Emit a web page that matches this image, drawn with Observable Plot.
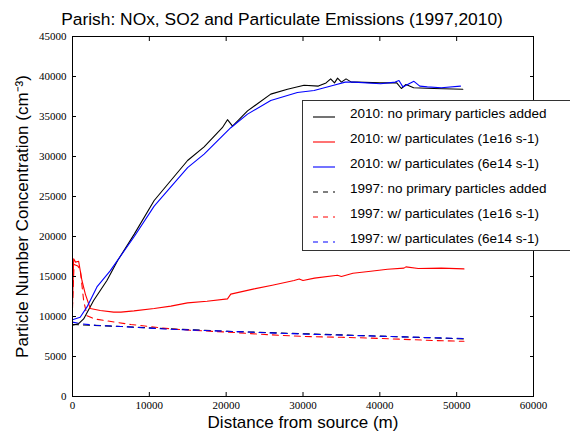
<!DOCTYPE html>
<html>
<head>
<meta charset="utf-8">
<script src="https://cdn.jsdelivr.net/npm/d3@7"></script>
<script src="https://cdn.jsdelivr.net/npm/@observablehq/plot@0.6"></script>
<style>
  body { margin: 0; background: #fff; }
  #wrap { position: relative; width: 570px; height: 434px; overflow: hidden; font-family: "Liberation Sans", Arial, sans-serif; }
  #title { position: absolute; left: 0; width: 570px; top: 9px; text-align: center; font-size: 17.4px; color: #000; margin-left: -3px; }
  #chart { position: absolute; left: 0; top: 0; }
  #legend { position: absolute; left: 302px; top: 100px; width: 272px; height: 149px; border: 1px solid #333; background: #fff; }
  .row { position: absolute; left: 0; height: 20px; font-size: 13.5px; white-space: nowrap; }
  .row svg { position: absolute; left: 9px; top: 4px; }
  .row span { position: absolute; left: 47px; top: 1px; }
</style>
</head>
<body>
<div id="wrap">
  <div id="chart"></div>
  <div id="title">Parish: NOx, SO2 and Particulate Emissions (1997,2010)</div>
  <div id="legend"></div>
</div>
<script>
// ---- data (distance in m, particle number concentration in cm^-3) ----
const seriesNames = [
  "2010: no primary particles added",
  "2010: w/ particulates (1e16 s-1)",
  "2010: w/ particulates (6e14 s-1)",
  "1997: no primary particles added",
  "1997: w/ particulates (1e16 s-1)",
  "1997: w/ particulates (6e14 s-1)"
];
const xTicks = [0, 10000, 20000, 30000, 40000, 50000, 60000];
const yTicks = [0, 5000, 10000, 15000, 20000, 25000, 30000, 35000, 40000, 45000];

const distBlack2010 = [0, 800, 1450, 2750, 4480, 5880, 8040, 10630, 12800, 14980, 17130, 19500, 20170, 20830, 22780, 25800, 27980, 30140, 32000, 33000, 33600, 34100, 34500, 35000, 35600, 36300, 37100, 40000, 42200, 42800, 43400, 44400, 47000, 50800];
const valBlack2010  = [8900, 9100, 9700, 12000, 14500, 17000, 20300, 24500, 27000, 29500, 31200, 33600, 34600, 33800, 35700, 37800, 38400, 38900, 38800, 39200, 39700, 39200, 39800, 39300, 39700, 39300, 39300, 39200, 39200, 38500, 39000, 38600, 38500, 38400];

const distRed2010 = [0, 150, 400, 800, 1230, 1670, 2310, 3610, 5360, 6300, 8000, 10630, 12800, 14970, 17500, 20170, 20600, 23640, 26000, 28840, 29500, 30000, 31500, 34480, 35000, 36500, 38810, 41000, 43140, 43400, 45000, 48000, 50950];
const valRed2010  = [11500, 17200, 16800, 16900, 14500, 12800, 11000, 10750, 10550, 10550, 10700, 11000, 11300, 11700, 11900, 12200, 12800, 13450, 13900, 14500, 14700, 14500, 14800, 15150, 15000, 15400, 15650, 15900, 16050, 16200, 16000, 16050, 15950];

const distBlue2010 = [0, 1000, 1890, 3180, 4900, 8040, 10630, 12800, 14980, 17130, 20600, 22780, 25800, 29270, 31440, 34000, 35500, 36640, 40100, 42000, 42490, 43000, 43800, 44440, 45200, 46180, 48000, 50500];
const valBlue2010  = [9600, 9900, 11200, 13700, 15700, 20000, 23800, 26200, 28600, 30300, 33600, 35300, 37000, 38000, 38250, 38900, 39300, 39300, 39100, 39300, 39500, 38700, 39100, 39400, 38800, 38700, 38600, 38800];

const distBlack1997 = [0, 6300, 12800, 20170, 30140, 43140, 50950];
const valBlack1997  = [9000, 8750, 8450, 8150, 7850, 7450, 7200];

const distRed1997 = [0, 200, 700, 1000, 1450, 1890, 2840, 4140, 5500, 7600, 10000, 12800, 16000, 20170, 25000, 30140, 35000, 38800, 43000, 47000, 50950];
const valRed1997  = [11000, 16500, 16300, 15900, 12000, 10100, 9700, 9500, 9300, 9000, 8750, 8450, 8250, 8050, 7750, 7500, 7400, 7300, 7150, 7000, 6900];

const distBlue1997 = [0, 1000, 3000, 6300, 12800, 20170, 30140, 43140, 50950];
const valBlue1997  = [9300, 9100, 8900, 8750, 8400, 8150, 7800, 7450, 7250];

const seriesColors = ["black", "red", "blue", "black", "red", "blue"];
const seriesDash = [null, null, null, "6,5", "6,5", "6,5"];

// ---- build tables ----
const pairs = [
  [distBlack2010, valBlack2010], [distRed2010, valRed2010], [distBlue2010, valBlue2010],
  [distBlack1997, valBlack1997], [distRed1997, valRed1997], [distBlue1997, valBlue1997]
];
const tables = pairs.map(([d, v], i) => d.map((x, j) => ({x, y: v[j], s: seriesNames[i]})));

const tickFont = {fontFamily: "Liberation Serif, serif", fontSize: 11};

const marks = [];
// draw 1997 first then 2010 on top
[3, 4, 5, 0, 1, 2].forEach(i => {
  marks.push(Plot.line(tables[i], {x: "x", y: "y", stroke: seriesColors[i], strokeWidth: 1.1, strokeDasharray: seriesDash[i] ?? undefined}));
});
marks.push(
  Plot.frame({stroke: "black", strokeWidth: 1}),
  Plot.axisX({ticks: xTicks, tickSize: -4, tickPadding: 9, tickFormat: d => String(d), ...tickFont, label: null}),
  Plot.axisX({anchor: "top", ticks: xTicks, tickSize: -4, tickFormat: () => "", label: null}),
  Plot.axisY({ticks: yTicks, tickSize: -4, tickPadding: 10, tickFormat: d => String(d), ...tickFont, label: null}),
  Plot.axisY({anchor: "right", ticks: yTicks, tickSize: -4, tickFormat: () => "", label: null}),
  Plot.text(["Distance from source (m)"], {frameAnchor: "bottom", dy: 31, text: d => d, fontSize: 17, fontFamily: "Liberation Sans, sans-serif", fill: "black"}),
  Plot.text(["Particle Number Concentration (cm\u207B\u00B3)"], {frameAnchor: "left", dx: -50, rotate: -90, textAnchor: "middle", text: d => d, fontSize: 17, fontFamily: "Liberation Sans, sans-serif", fill: "black"})
);

const chart = Plot.plot({
  width: 570,
  height: 434,
  marginTop: 36,
  marginBottom: 38,
  marginLeft: 72,
  marginRight: 37,
  x: {domain: [0, 60000]},
  y: {domain: [0, 45000]},
  style: {background: "white", color: "black", overflow: "visible"},
  marks
});
document.getElementById("chart").appendChild(chart);

// ---- legend ----
const legend = document.getElementById("legend");
seriesNames.forEach((name, i) => {
  const row = document.createElement("div");
  row.className = "row";
  row.style.top = (4 + i * 25) + "px";
  row.style.width = "270px";
  const dash = seriesDash[i] ? `stroke-dasharray="5,5"` : "";
  row.innerHTML = `<svg width="24" height="12"><line x1="1" x2="23" y1="8" y2="8" stroke="${seriesColors[i]}" stroke-width="1.1" ${dash}/></svg><span>${name}</span>`;
  legend.appendChild(row);
});
</script>
</body>
</html>
